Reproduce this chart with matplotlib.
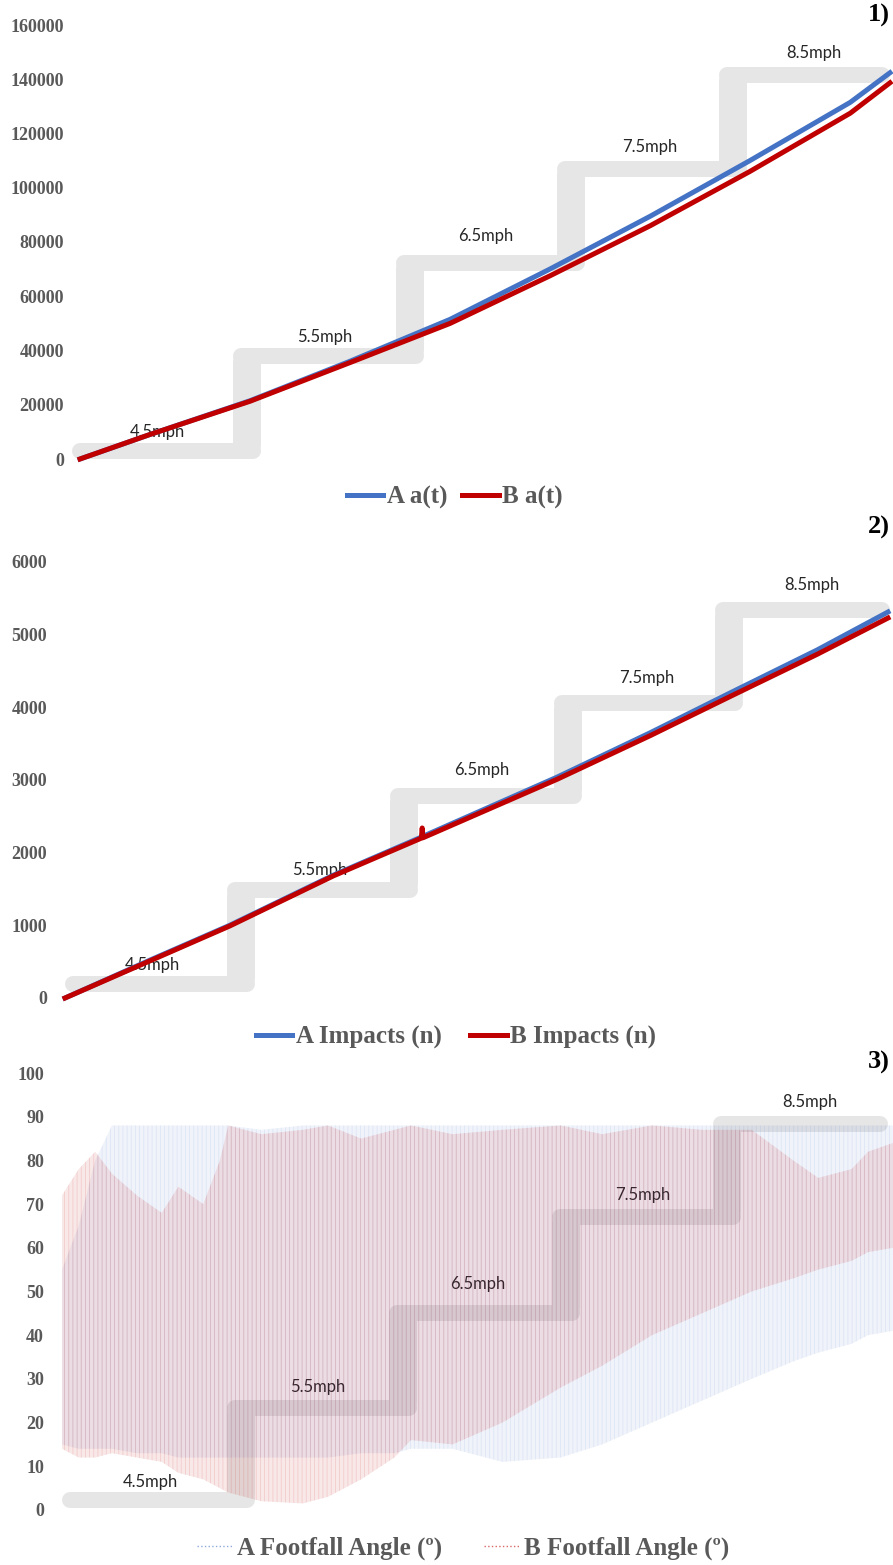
import matplotlib
matplotlib.use("Agg")
import matplotlib.pyplot as plt
from matplotlib.lines import Line2D
from matplotlib.transforms import Affine2D

# ---- data (x = % of the run) ----
t1 = [0, 8.6, 21.0, 33.3, 45.7, 58.0, 70.4, 82.7, 95.1, 100]
a_at = [0, 9000, 21500, 36000, 51500, 70000, 89500, 110000, 131500, 142400]
b_at = [0, 9000, 21300, 35500, 50000, 67500, 86000, 106000, 127500, 138700]

t2 = [0, 10.3, 20.0, 32.6, 42.8, 59.8, 71.1, 81.2, 91.4, 100]
a_imp = [0, 520, 1000, 1690, 2190, 3040, 3650, 4220, 4790, 5312]
t2b = [0, 10.3, 20.0, 32.6, 43.3, 43.4, 43.5, 59.8, 71.1, 81.2, 91.4, 100]
b_imp = [0, 510, 990, 1680, 2200, 2340, 2205, 3010, 3610, 4170, 4730, 5229]

# footfall angle: envelope of the oscillating traces
t3 = [0, 2, 4, 6, 9, 12, 14, 17, 19, 20, 24, 29, 32, 36, 40, 42, 47, 53,
      60, 65, 71, 77, 83, 88, 91, 95, 97, 100]
a_ang_hi = [55, 65, 80, 88, 88, 88, 88, 88, 88, 88, 87, 88, 88, 88, 88, 88, 88, 88,
            88, 88, 88, 88, 88, 88, 88, 88, 88, 88]
a_ang_lo = [15, 14, 14, 14, 13, 13, 12, 12, 12, 12, 12, 12, 12, 13, 13, 14, 14, 11,
            12, 15, 20, 25, 30, 34, 36, 38, 40, 41]
b_ang_hi = [72, 78, 82, 77, 72, 68, 74, 70, 80, 88, 86, 87, 88, 85, 87, 88, 86, 87,
            88, 86, 88, 87, 87, 80, 76, 78, 82, 84]
b_ang_lo = [14, 12, 12, 13, 12, 11, 8.5, 7, 5, 4, 2, 1.5, 3, 7, 12, 16, 15, 20,
            28, 33, 40, 45, 50, 53, 55, 57, 59, 60]

speeds = ['4.5mph', '5.5mph', '6.5mph', '7.5mph', '8.5mph']

A_COL = '#4472C4'
B_COL = '#C00000'
GREY = '#e6e6e6'

W, H = 893, 1565
fig = plt.figure(figsize=(W / 100, H / 100), dpi=100)
# pixel coordinates measured from top-left
px = Affine2D().scale(1 / W, -1 / H).translate(0, 1) + fig.transFigure

tick_font = dict(family='Liberation Serif', weight='bold', size=13, color='#595959')
leg_font = dict(family='Liberation Serif', weight='bold', size=18)


def make_axes(left, right, top, bottom):
    ax = fig.add_axes([left / W, 1 - bottom / H, (right - left) / W, (bottom - top) / H])
    for s in ax.spines.values():
        s.set_visible(False)
    ax.set_xticks([])
    ax.set_xlim(0, 100)
    return ax


def stairs(ax, x0, x1, breaks, levels, labels_at):
    hw, vw = 8, 14
    edges = [x0] + breaks + [x1]
    for i, y in enumerate(levels):
        xa = edges[i] - (vw if i > 0 else 0)
        xb = edges[i + 1] + (vw if i < len(levels) - 1 else 0)
        ax.add_line(Line2D([xa + hw, xb - hw], [y, y], transform=px, lw=2 * hw * 0.72,
                           color=GREY, solid_capstyle='round', zorder=0, clip_on=False))
    for i, xb in enumerate(breaks):
        ax.add_line(Line2D([xb, xb], [levels[i] - 6, levels[i + 1] + 6], transform=px,
                           lw=2 * vw * 0.72, color=GREY, solid_capstyle='round',
                           zorder=0, clip_on=False))
    for lab, (x, y) in zip(speeds, labels_at):
        ax.text(x, y, lab, transform=px, ha='center', va='center', family='Lato',
                size=12, color='#262626', zorder=1)


def yticks(ax, ticks, pad):
    ax.set_yticks(ticks)
    ax.set_yticklabels([str(v) for v in ticks], fontdict=tick_font)
    ax.tick_params(axis='y', length=0, pad=pad)


def legend(handles, labels, xc, yc, colsp):
    fig.legend(handles=handles, labels=labels, loc='center',
               bbox_to_anchor=(xc / W, 1 - yc / H), ncol=2, frameon=False, prop=leg_font,
               handlelength=1.45, handletextpad=0.15, columnspacing=colsp,
               labelcolor='#595959')


# ---- panel 1 ----
ax1 = make_axes(80, 890, 25, 459)
ax1.set_ylim(0, 160000)
stairs(ax1, 72, 890, [247, 410, 571, 733], [451, 356, 263, 169, 75],
       [(157, 432), (325, 337), (486, 236), (650, 147), (814, 53)])
la, = ax1.plot(t1, a_at, color=A_COL, lw=3.6, zorder=3, clip_on=False)
lb, = ax1.plot(t1, b_at, color=B_COL, lw=3.6, zorder=4, clip_on=False)
yticks(ax1, list(range(0, 160001, 20000)), 11.5)
legend([la, lb], ['A a(t)', 'B a(t)'], 455, 497, 0.6)

# ---- panel 2 ----
ax2 = make_axes(65, 888, 562, 998)
ax2.set_ylim(0, 6000)
stairs(ax2, 65, 890, [241, 404, 568, 729], [984, 890, 796, 703, 610],
       [(152, 965), (320, 870), (482, 770), (647, 678), (812, 585)])
la, = ax2.plot(t2, a_imp, color=A_COL, lw=3.6, zorder=3, clip_on=False)
lb, = ax2.plot(t2b, b_imp, color=B_COL, lw=3.6, zorder=4, clip_on=False)
yticks(ax2, list(range(0, 6001, 1000)), 13)
legend([la, lb], ['A Impacts (n)', 'B Impacts (n)'], 456, 1037, 1.15)

# ---- panel 3 ----
plt.rcParams['hatch.linewidth'] = 0.6
ax3 = make_axes(62, 893, 1073, 1510)
ax3.set_ylim(0, 100)
stairs(ax3, 62, 888, [241, 403, 566, 727], [1500, 1408, 1313, 1217, 1124],
       [(150, 1482), (318, 1387), (478, 1284), (643, 1195), (810, 1102)])
for lo, hi, col, a in [(a_ang_lo, a_ang_hi, A_COL, 0.08), (b_ang_lo, b_ang_hi, B_COL, 0.09)]:
    ax3.fill_between(t3, lo, hi, facecolor=col, alpha=a, lw=0, zorder=2)
    ax3.fill_between(t3, lo, hi, facecolor='none', edgecolor=col, hatch='||||',
                     alpha=a + 0.03, lw=0, zorder=2)
yticks(ax3, list(range(0, 101, 10)), 13)
h3 = [Line2D([], [], color=A_COL, lw=1, ls=':', alpha=0.6),
      Line2D([], [], color=B_COL, lw=1, ls=':', alpha=0.6)]
legend(h3, ['A Footfall Angle (º)', 'B Footfall Angle (º)'], 463, 1548, 1.7)

# panel numbers
for lab, y in [('1)', 15), ('2)', 527), ('3)', 1062)]:
    fig.text(890 / W, 1 - y / H, lab, ha='right', va='center', family='Liberation Serif',
             weight='bold', size=19)

fig.savefig('out.png', dpi=100)
